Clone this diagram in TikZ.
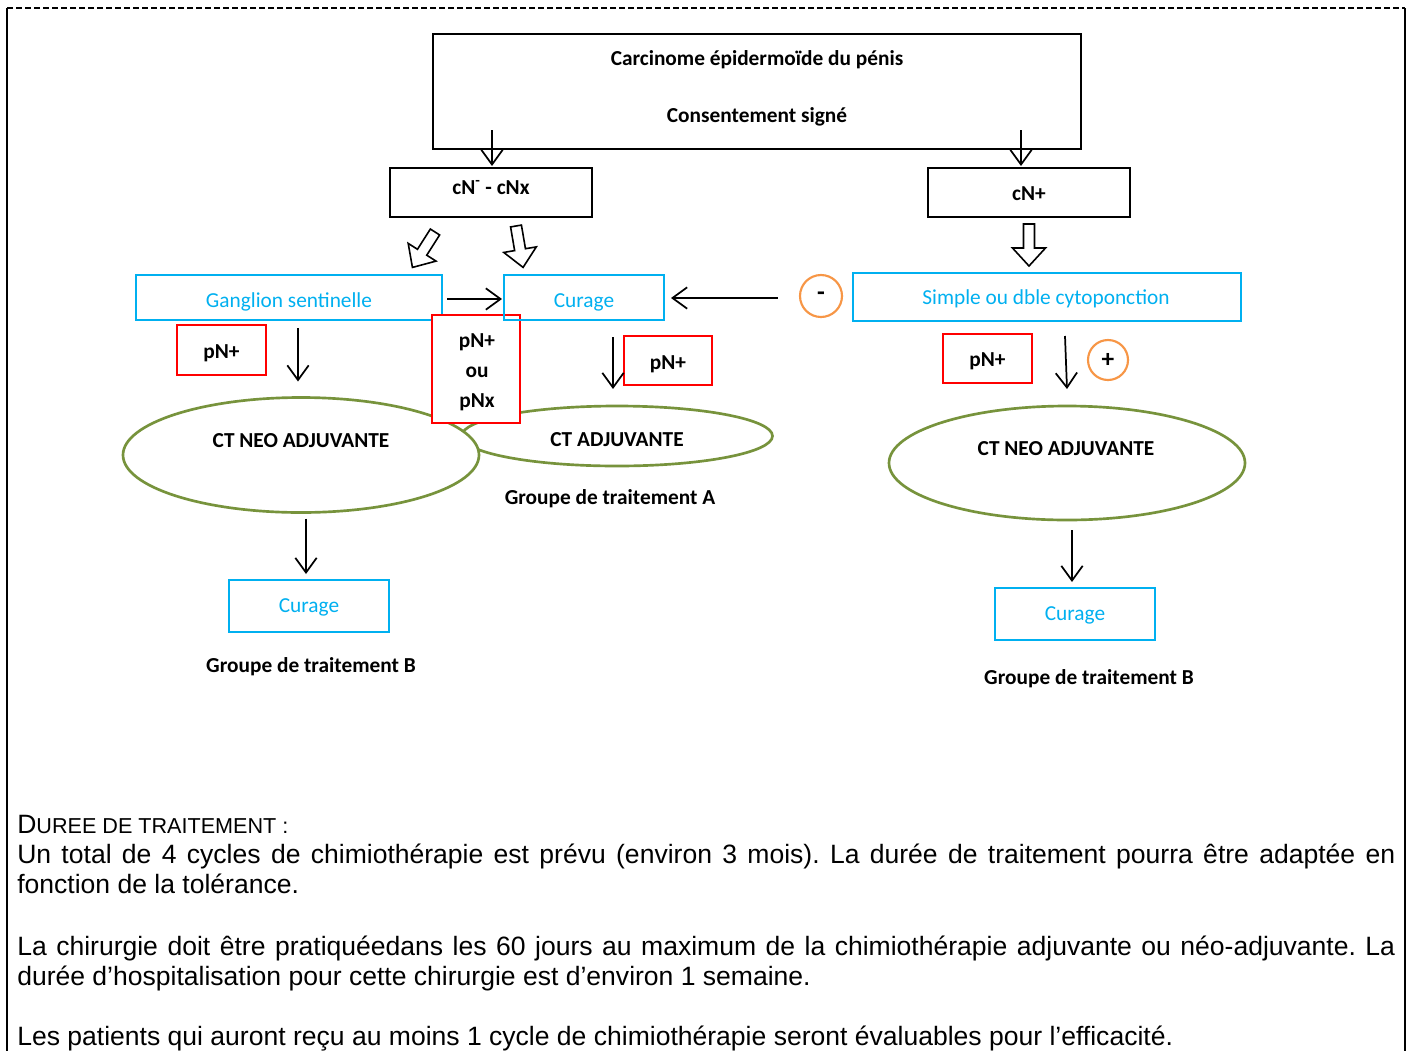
\documentclass[tikz,border=0pt]{standalone}
\usepackage{fontspec}
\setmainfont{Carlito}
\newfontfamily\arialf{Liberation Sans}
\usetikzlibrary{arrows.meta,shapes.geometric,calc}
\definecolor{cblue}{HTML}{00B0F0}
\definecolor{cred}{HTML}{FF0000}
\definecolor{cgreen}{HTML}{77933C}
\definecolor{corange}{HTML}{F79646}
\newcommand\hollowarrow[3]{%
  \begin{scope}[shift={(#1,#2)}, rotate=#3]
    \draw[hollowst] (-5.5,0) -- (5.5,0) -- (5.5,24) -- (16.5,24) -- (0,42) -- (-16.5,24) -- (-5.5,24) -- cycle;
  \end{scope}}
\frenchspacing
\begin{document}
\begin{tikzpicture}[x=0.75pt,y=-0.75pt,
  wh/.style 2 args={minimum width=#1*0.75pt, minimum height=#2*0.75pt, inner sep=0pt, outer sep=0pt},
  blk/.style={draw=black, line width=1.6pt, fill=white},
  bluebox/.style={draw=cblue, line width=1.7pt},
  redbox/.style={draw=cred, line width=1.7pt, fill=white},
  ell/.style={draw=cgreen, line width=2pt, ellipse, fill=white},
  circ/.style={draw=corange, circle, line width=1.6pt, fill=white, inner sep=0pt, font=\bfseries\fontsize{19}{22}\selectfont},
  lbl/.style={font=\bfseries\fontsize{16}{19}\selectfont, inner sep=0pt, anchor=base},
  blbl/.style={font=\fontsize{16}{19}\selectfont, text=cblue, inner sep=0pt, anchor=base},
  arr/.style={-{Straight Barb[length=11pt,width=16pt]}, line width=1.3pt},
  hollowst/.style={draw=black, line width=1.2pt, fill=white, line join=miter},
  btxt/.style={font=\arialf\fontsize{19.9}{24}\selectfont, inner sep=0pt, anchor=base west}]

\useasboundingbox (0,0) rectangle (1410,1050);
\fill[white] (0,0) rectangle (1410,1050);

% frame
\draw[line width=1.5pt, dash pattern=on 4.5pt off 2.25pt] (7,8) -- (1405,8);
\draw[line width=1.5pt] (7,8) -- (7,1052);
\draw[line width=1.5pt] (1405,8) -- (1405,1052);

% top box
\node[blk, wh={648}{115}] (top) at (757,91.5) {};
\node[lbl] (t1) at (757,65) {Carcinome épidermoïde du pénis};
\node[lbl] (t2) at (757,122) {Consentement signé};

% cN boxes
\node[blk, wh={202}{49}] (cnm) at (491,192.5) {};
\node[lbl] (cnmt) at (491,194) {cN\textsuperscript{-} - cNx};
\node[blk, wh={202}{49}] (cnp) at (1029,192.5) {};
\node[lbl] (cnpt) at (1029,200) {cN+};

\draw[arr] ($(cnm.north)+(1,-38)$) -- ($(cnm.north)+(1,-2)$);
\draw[arr] ($(cnp.north)+(-8,-38)$) -- ($(cnp.north)+(-8,-2)$);

% hollow arrows
\hollowarrow{435}{232}{-32.5}
\hollowarrow{516}{226}{9.7}
\hollowarrow{1029}{224}{0}

% ellipses (behind first)
\node[ell, wh={311}{60}] (ca) at (617,436) {};
\node[ell, wh={356}{115}] (cnl) at (301,455) {};
\node[ell, wh={356}{114}] (cnr) at (1067,463) {};
\node[lbl] (cat) at (617,446) {CT ADJUVANTE};
\node[lbl] (cnlt) at (301,447) {CT NEO ADJUVANTE};
\node[lbl] (cnrt) at (1066,455) {CT NEO ADJUVANTE};

% blue boxes
\node[bluebox, fill=white, wh={306}{45}] (gs) at (289,297.5) {};
\node[blbl] (gst) at (289,307) {Ganglion sentinelle};
\node[redbox, wh={88}{108}] (pnx) at (476,369) {};
\node[lbl] (pnx1) at (477,347) {pN+};
\node[lbl] (pnx2) at (477,377) {ou};
\node[lbl] (pnx3) at (477,407) {pNx};
\node[bluebox, wh={160}{45}] (cur) at (584,297.5) {};
\node[blbl] (curt) at (584,307) {Curage};
\node[bluebox, fill=white, wh={388}{48}] (sc) at (1047,297) {};
\node[blbl] (sct) at (1046,304) {Simple ou dble cytoponction};
\node[bluebox, fill=white, wh={160}{52}] (cbl) at (309,606) {};
\node[blbl] (cblt) at (309,612) {Curage};
\node[bluebox, fill=white, wh={160}{52}] (cbr) at (1075,614) {};
\node[blbl] (cbrt) at (1075,620) {Curage};

% red boxes
\node[redbox, wh={89}{50}] (pnl) at (221.5,350) {};
\node[lbl] (pnlt) at (221.5,358) {pN+};
\node[redbox, wh={88}{49}] (pnm) at (668,360.5) {};
\node[lbl] (pnmt) at (668,369) {pN+};
\node[redbox, wh={89}{49}] (pnr) at (987.5,358.5) {};
\node[lbl] (pnrt) at (987.5,366) {pN+};

% circles
\node[circ, minimum size=31.5pt] (minus) at (821,296) {-};
\node[circ, minimum size=30pt] (plus) at (1108,360) {+};

% thin arrows
\draw[arr] ($(gs.east)+(5,1.5)$) -- ($(cur.west)+(-2,1.5)$);
\draw[arr] ($(minus.west)+(-21,2)$) -- ($(cur.east)+(7,0.5)$);
\draw[arr] ($(gs.south)+(9,8)$) -- ($(cnl.north)+(-3,-16)$);
\draw[arr] ($(cur.south)+(29,17)$) -- ($(ca.north)+(-4,-17)$);
\draw[arr] ($(sc.south)+(18,15)$) -- ($(cnr.north)+(0,-17)$);
\draw[arr] ($(cnl.south)+(5,6)$) -- ($(cbl.north)+(-3,-6)$);
\draw[arr] ($(cnr.south)+(5,10)$) -- ($(cbr.north)+(-3,-6)$);

% group labels
\node[lbl] (ga) at (610,504) {Groupe de traitement A};
\node[lbl] (gb1) at (311,672) {Groupe de traitement B};
\node[lbl] (gb2) at (1089,684) {Groupe de traitement B};

% bottom text
\node[btxt] (h) at (17,833) {D{\fontsize{16.2}{19}\selectfont UREE DE TRAITEMENT :}};
\node[btxt] (l1) at (17,863) {\makebox[1033.5pt][s]{Un total de 4 cycles de chimiothérapie est prévu (environ 3 mois). La durée de traitement pourra être adaptée en}};
\node[btxt] (l2) at (17,893) {fonction de la tolérance.};
\node[btxt] (l3) at (17,955) {\makebox[1033.5pt][s]{La chirurgie doit être pratiquéedans les 60 jours au maximum de la chimiothérapie adjuvante ou néo-adjuvante. La}};
\node[btxt] (l4) at (17,985) {durée d’hospitalisation pour cette chirurgie est d’environ 1 semaine.};
\node[btxt] (l5) at (17,1045) {Les patients qui auront reçu au moins 1 cycle de chimiothérapie seront évaluables pour l’efficacité.};
\end{tikzpicture}
\end{document}
